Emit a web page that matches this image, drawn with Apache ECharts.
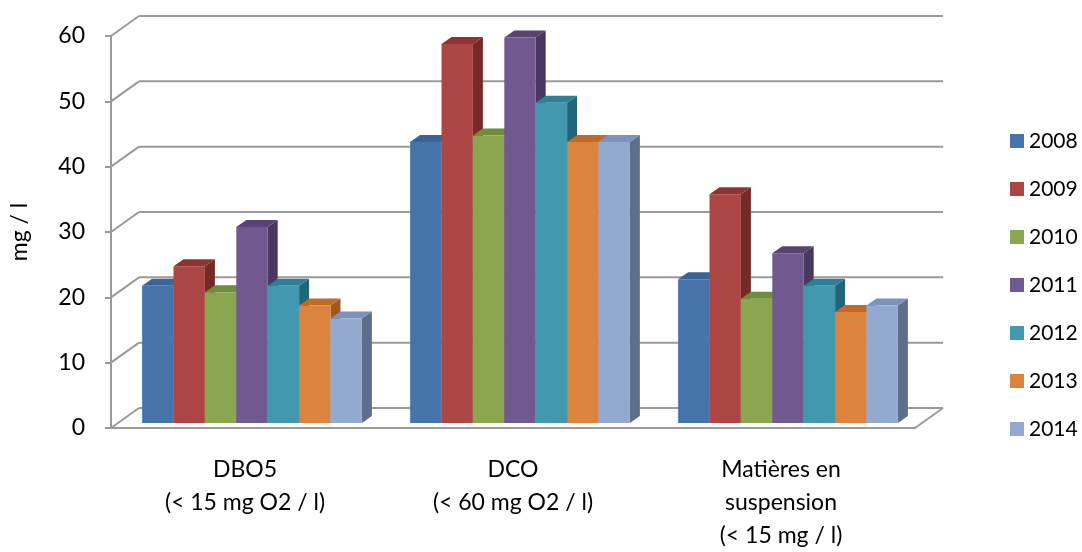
<!DOCTYPE html>
<html>
<head>
<meta charset="utf-8">
<script src="https://cdn.jsdelivr.net/npm/echarts@6/dist/echarts.min.js"></script>
<style>
  html, body { margin: 0; padding: 0; background: #fff; }
  #chart { width: 1082px; height: 552px; }
</style>
</head>
<body>
<div id="chart"></div>
<script>
// Mean concentrations per parameter and year (mg / l)
const categories = [
  'DBO5\n(< 15 mg O2 / l)',
  'DCO\n(< 60 mg O2 / l)',
  'Matières en\nsuspension\n(< 15 mg / l)'
];
const years = ['2008', '2009', '2010', '2011', '2012', '2013', '2014'];
const v2008 = [21, 43, 22];
const v2009 = [24, 58, 35];
const v2010 = [20, 44, 19];
const v2011 = [30, 59, 26];
const v2012 = [21, 49, 21];
const v2013 = [18, 43, 17];
const v2014 = [16, 43, 18];
const yTicks = [0, 10, 20, 30, 40, 50, 60];

const seriesValues = [v2008, v2009, v2010, v2011, v2012, v2013, v2014];

// front / top / side shades for the pseudo-3D columns
const palette = [
  { front: '#4674AB', top: '#3A6399', side: '#2D4D76' },
  { front: '#AB4644', top: '#8E3331', side: '#762A28' },
  { front: '#8AA64F', top: '#6F8D3B', side: '#5B7530' },
  { front: '#71588F', top: '#594375', side: '#493762' },
  { front: '#4198AF', top: '#2E8098', side: '#236578' },
  { front: '#DB843D', top: '#C26A22', side: '#A2581C' },
  { front: '#93A9D0', top: '#7A92BC', side: '#5E6F8E' }
];

const WALL = [28, -20];   // depth vector from front plane to back wall
const OFF = [7, -5];      // column front face offset inside the box
const DEP = [10, -7];     // column depth
const GROUP = 0.82;       // share of a category band used by the columns
const LINE = '#9a9a9a';

function wallItem(params, api) {
  const cs = params.coordSys;
  const x0 = cs.x, x1 = cs.x + cs.width;
  const val = api.value(1);
  const y = api.coord([0, val])[1];
  const st = { stroke: LINE, lineWidth: 2, fill: null };
  const children = [
    { type: 'line', shape: { x1: x0, y1: y, x2: x0 + WALL[0], y2: y + WALL[1] }, style: st },
    { type: 'line', shape: { x1: x0 + WALL[0], y1: y + WALL[1], x2: x1 + WALL[0], y2: y + WALL[1] }, style: st }
  ];
  if (val === 0) {
    children.push({ type: 'line', shape: { x1: x1, y1: y, x2: x1 + WALL[0], y2: y + WALL[1] }, style: st });
  }
  return { type: 'group', children };
}

function columnRenderer(s) {
  return function (params, api) {
    const cat = api.value(0), val = api.value(1);
    const top = api.coord([cat, val]);
    const base = api.coord([cat, 0]);
    const band = api.size([1, 0])[0];
    const n = years.length;
    const w = band * GROUP / n;
    const x = top[0] - (n / 2) * w + s * w + OFF[0];
    const yT = top[1] + OFF[1];
    const yB = base[1] + OFF[1];
    const c = palette[s];
    return {
      type: 'group',
      children: [
        { type: 'polygon', shape: { points: [[x + w, yT], [x + w + DEP[0], yT + DEP[1]], [x + w + DEP[0], yB + DEP[1]], [x + w, yB]] }, style: { fill: c.side } },
        { type: 'polygon', shape: { points: [[x, yT], [x + DEP[0], yT + DEP[1]], [x + w + DEP[0], yT + DEP[1]], [x + w, yT]] }, style: { fill: c.top } },
        { type: 'rect', shape: { x: x, y: yT, width: w, height: yB - yT }, style: { fill: c.front } }
      ]
    };
  };
}

const FONT = 'Lato, "Open Sans", sans-serif';

const series = [{
  type: 'custom',
  name: 'wall',
  clip: false,
  silent: true,
  z: 1,
  data: yTicks.map(t => [0, t]),
  encode: { x: 0, y: 1 },
  renderItem: wallItem
}];

years.forEach((yr, s) => {
  series.push({
    type: 'custom',
    name: yr,
    clip: false,
    z: 2,
    itemStyle: { color: palette[s].front },
    data: seriesValues[s].map((v, i) => [i, v]),
    encode: { x: 0, y: 1 },
    renderItem: columnRenderer(s)
  });
});

const chart = echarts.init(document.getElementById('chart'), null, { renderer: 'canvas' });
chart.setOption({
  animation: false,
  backgroundColor: '#ffffff',
  grid: { left: 111, right: 167, top: 36, bottom: 121, containLabel: false },
  legend: {
    data: years,
    orient: 'vertical',
    left: 1005,
    top: 124,
    icon: 'rect',
    itemWidth: 14,
    itemHeight: 14,
    itemGap: 24,
    textStyle: { fontFamily: FONT, fontSize: 21, color: '#000', lineHeight: 24 }
  },
  xAxis: {
    type: 'category',
    data: categories,
    axisLine: { show: true, lineStyle: { color: LINE, width: 2 } },
    axisTick: { show: false },
    splitLine: { show: false },
    axisLabel: {
      fontFamily: FONT, fontSize: 23, color: '#000', lineHeight: 33,
      margin: 25, interval: 0
    }
  },
  yAxis: {
    type: 'value',
    min: 0, max: 60, interval: 10,
    name: 'mg / l',
    nameLocation: 'middle',
    nameGap: 80,
    nameTextStyle: { fontFamily: FONT, fontSize: 23, color: '#000' },
    axisLine: { show: true, lineStyle: { color: LINE, width: 2 } },
    axisTick: { show: true, length: 6, lineStyle: { color: LINE, width: 2 } },
    splitLine: { show: false },
    axisLabel: { fontFamily: FONT, fontSize: 23, color: '#000', margin: 26 }
  },
  series: series
});
</script>
</body>
</html>
